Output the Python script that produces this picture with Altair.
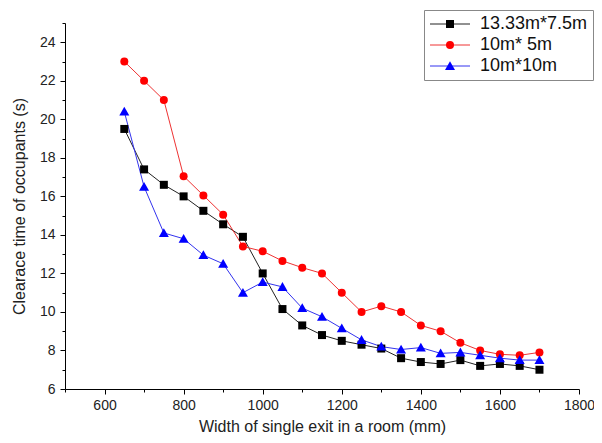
import altair as alt
import pandas as pd

widths = [650, 700, 750, 800, 850, 900, 950, 1000, 1050, 1100, 1150,
          1200, 1250, 1300, 1350, 1400, 1450, 1500, 1550, 1600, 1650, 1700]

s_black = [19.5, 17.4, 16.6, 16.0, 15.25, 14.55, 13.9, 12.0, 10.15, 9.3, 8.8,
           8.5, 8.3, 8.1, 7.6, 7.4, 7.3, 7.5, 7.2, 7.3, 7.2, 7.0]
s_red = [23.0, 22.0, 21.0, 17.05, 16.05, 15.05, 13.4, 13.15, 12.65, 12.3, 12.0,
         11.0, 10.0, 10.3, 10.0, 9.3, 9.0, 8.4, 8.0, 7.8, 7.75, 7.9]
s_blue = [20.4, 16.5, 14.1, 13.8, 12.95, 12.5, 11.0, 11.55, 11.3, 10.2, 9.75,
          9.15, 8.55, 8.2, 8.05, 8.15, 7.85, 7.9, 7.75, 7.6, 7.5, 7.5]

series_names = ["13.33m*7.5m", "10m* 5m", "10m*10m"]
marker_colors = ["#000000", "#ff0000", "#0000ff"]
line_colors = ["#222222", "#ee3333", "#3333ee"]
shapes = ["square", "circle", "M0,-1.2L1.25,1L-1.25,1Z"]

x_ticks = list(range(500, 1801, 100))
y_ticks = list(range(6, 26))

rows = []
for name, vals in zip(series_names, [s_black, s_red, s_blue]):
    for w, v in zip(widths, vals):
        rows.append({"width": w, "time": v, "series": name, "series_l": name})
df = pd.DataFrame(rows)

FONT = "Liberation Sans"
LEG_X = 359
LEG_Y = -13

x_enc = alt.X(
    "width:Q",
    scale=alt.Scale(domain=[500, 1800], nice=False, zero=False),
    axis=alt.Axis(
        title="Width of single exit in a room (mm)",
        values=x_ticks,
        format="d",
        labelExpr="datum.value % 200 === 0 ? datum.label : ''",
        tickSize={"condition": {"test": "datum.value % 200 === 0", "value": 5}, "value": 3},
        grid=False,
        labelFlush=False,
        labelPadding=4,
        titlePadding=6,
    ),
)
y_enc = alt.Y(
    "time:Q",
    scale=alt.Scale(domain=[6, 25], nice=False, zero=False),
    axis=alt.Axis(
        title="Clearace time of occupants (s)",
        values=y_ticks,
        format="d",
        labelExpr="datum.value % 2 === 0 ? datum.label : ''",
        tickSize={"condition": {"test": "datum.value % 2 === 0", "value": 5}, "value": 3},
        grid=False,
        labelFlush=False,
        labelPadding=5,
        titlePadding=12,
    ),
)

leg_common = dict(
    title=None,
    orient="none",
    legendX=LEG_X,
    legendY=LEG_Y,
    symbolSize=64,
    symbolOffset=12,
    labelOffset=21,
    labelFontSize=18,
    labelFont=FONT,
    rowPadding=3,
    padding=5,
)

lines = alt.Chart(df).mark_line(strokeWidth=1).encode(
    x=x_enc,
    y=y_enc,
    color=alt.Color(
        "series_l:N",
        scale=alt.Scale(domain=series_names, range=line_colors),
        legend=alt.Legend(
            symbolType="M-5,0H5",
            symbolStrokeWidth=1,
            labelColor="#111111",
            strokeColor="#888888",
            fillColor="white",
            **leg_common,
        ),
    ),
    order="width:Q",
)

pt_legend = alt.Legend(symbolStrokeWidth=0, labelOpacity=0, **leg_common)

points = alt.Chart(df).mark_point(filled=True, opacity=1).encode(
    x=x_enc,
    y=y_enc,
    fill=alt.Fill(
        "series:N",
        scale=alt.Scale(domain=series_names, range=marker_colors),
        legend=pt_legend,
    ),
    shape=alt.Shape(
        "series:N",
        scale=alt.Scale(domain=series_names, range=shapes),
        legend=pt_legend,
    ),
    size=alt.value(64),
)

chart = (
    alt.layer(lines, points)
    .resolve_scale(color="independent", fill="independent", shape="independent")
    .properties(
        width=514,
        height=366,
        padding={"left": 57, "top": 15, "right": 15, "bottom": 46},
        autosize=alt.AutoSizeParams(type="none"),
        background="white",
    )
    .configure_view(stroke=None)
    .configure_axis(
        domainColor="#000000",
        domainWidth=1,
        tickColor="#000000",
        tickWidth=1,
        labelFont=FONT,
        labelFontSize=14,
        labelColor="#222222",
        titleFont=FONT,
        titleFontSize=16,
        titleFontWeight="normal",
        titleColor="#222222",
    )
)

chart.save("out.html", embed_options={"renderer": "svg", "actions": False})
